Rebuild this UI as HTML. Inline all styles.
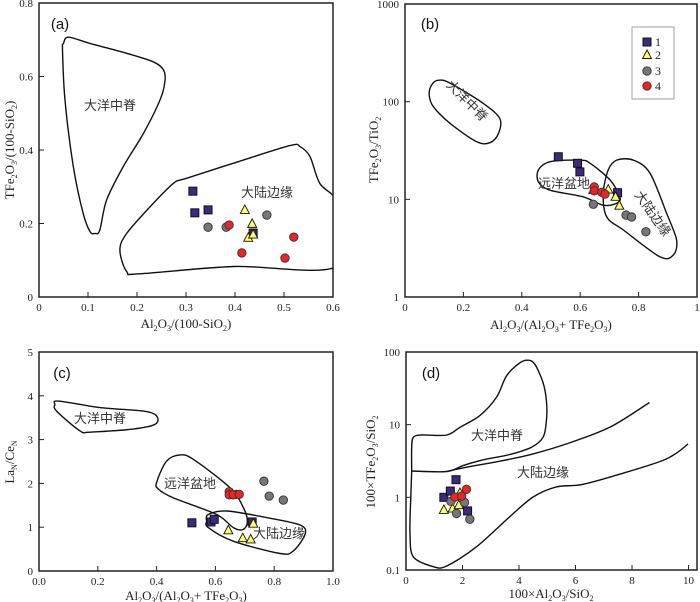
<!DOCTYPE html>
<html><head><meta charset="utf-8">
<style>
body{margin:0;background:#fff;}
svg{display:block;}
text{font-family:"Liberation Serif","Noto Serif CJK SC",serif;fill:#222;}
.cn{font-family:"Liberation Sans","Noto Sans CJK SC",sans-serif;font-size:13px;fill:#333;}
.pl{font-family:"Liberation Sans",sans-serif;font-size:15px;fill:#111;}
</style></head>
<body>
<svg id="chart" width="700" height="602" viewBox="0 0 700 602"></svg>
<script>
// ---- data: panel a ----
const aSq=[[0.314,0.288],[0.318,0.229],[0.345,0.237],[0.437,0.174]];
const aTri=[[0.42,0.237],[0.435,0.199],[0.427,0.161],[0.437,0.170]];
const aGray=[[0.345,0.190],[0.382,0.190],[0.465,0.223]];
const aRed=[[0.388,0.196],[0.414,0.120],[0.52,0.163],[0.502,0.106]];
const aRidge=[[0.048,0.672],[0.050,0.690],[0.060,0.707],[0.104,0.690],[0.179,0.663],[0.233,0.640],[0.254,0.618],[0.257,0.586],[0.247,0.536],[0.213,0.445],[0.172,0.355],[0.138,0.264],[0.124,0.182],[0.114,0.173],[0.104,0.178],[0.090,0.228],[0.070,0.355],[0.053,0.536]];
const aCont=[[0.165,0.128],[0.179,0.069],[0.206,0.063],[0.397,0.083],[0.61,0.084],[0.61,0.25],[0.573,0.309],[0.553,0.382],[0.533,0.409],[0.512,0.412],[0.397,0.364],[0.301,0.323],[0.274,0.309],[0.227,0.246],[0.179,0.173]];
const aXTicks=[0,0.1,0.2,0.3,0.4,0.5,0.6];
const aYTicks=[0,0.2,0.4,0.6,0.8];
// ---- data: panel b ----
const bSq=[[0.525,27.3],[0.591,23.4],[0.599,19.1],[0.728,11.7]];
const bTri=[[0.645,12.5],[0.696,12.6],[0.721,10.6],[0.734,8.6]];
const bGray=[[0.645,8.9],[0.757,6.9],[0.776,6.6],[0.825,4.66]];
const bRed=[[0.648,13.4],[0.648,12.2],[0.674,11.8],[0.685,11.3]];
const bRidge=[[0.091,148],[0.114,166],[0.154,155],[0.268,96],[0.325,67],[0.320,47],[0.291,38],[0.245,39],[0.154,60],[0.097,89],[0.083,117]];
const bBasin=[[0.457,20],[0.497,24.3],[0.599,25.2],[0.634,23.4],[0.702,15.8],[0.736,10.6],[0.725,9.1],[0.679,8.7],[0.611,10.6],[0.497,12.4],[0.457,15.1]];
const bCont=[[0.725,25.2],[0.782,25.2],[0.839,18.5],[0.896,7.2],[0.93,3.83],[0.919,2.69],[0.873,2.58],[0.748,4.85],[0.691,6.6],[0.679,11.5],[0.696,20]];
const bXTicks=[0,0.2,0.4,0.6,0.8,1];
const bYTicks=[1,10,100,1000];
// ---- data: panel c ----
const cSq=[[0.52,1.10],[0.585,1.12],[0.596,1.18],[0.725,1.12]];
const cTri=[[0.644,0.93],[0.693,0.75],[0.72,0.72],[0.729,1.08]];
const cGray=[[0.765,2.05],[0.783,1.71],[0.831,1.62],[0.672,1.75]];
const cRed=[[0.647,1.81],[0.647,1.74],[0.661,1.74],[0.681,1.75]];
const cRidge=[[0.054,3.80],[0.066,3.88],[0.207,3.73],[0.355,3.65],[0.40,3.54],[0.395,3.35],[0.32,3.24],[0.173,3.17],[0.139,3.20],[0.06,3.65]];
const cBasin=[[0.40,2.02],[0.434,2.51],[0.48,2.65],[0.525,2.55],[0.65,1.90],[0.695,1.45],[0.709,1.14],[0.695,0.95],[0.661,0.99],[0.604,1.29],[0.457,1.67],[0.406,1.87]];
const cCont=[[0.576,1.29],[0.638,1.37],[0.774,1.22],[0.888,1.05],[0.905,0.84],[0.865,0.46],[0.82,0.40],[0.661,0.68],[0.576,0.99],[0.57,1.14]];
const cXTicks=[0,0.2,0.4,0.6,0.8,1.0];
const cYTicks=[0,1,2,3,4,5];
// ---- data: panel d ----
const dSq=[[1.34,1.0],[1.57,1.22],[1.77,1.75],[2.18,0.65]];
const dTri=[[1.34,0.67],[1.65,0.70],[1.87,0.78],[1.91,1.15]];
const dGray=[[1.59,0.88],[1.79,0.60],[2.07,0.85],[2.26,0.50]];
const dRed=[[1.73,1.01],[1.97,1.04],[2.14,1.29]];
const dRidge=[[0.20,2.30],[0.20,4.89],[0.26,6.7],[0.55,7.2],[1.44,7.2],[1.91,9.2],[2.61,13.3],[3.20,23.7],[3.56,47],[4.03,71],[4.32,77],[4.56,68],[4.85,38],[4.97,21.3],[4.97,11.3],[4.85,6.7],[4.44,4.89],[3.67,3.88],[2.73,3.28],[2.03,2.75],[1.44,2.27],[0.20,2.30]];
const dMid=[[1.44,2.27],[2.14,2.6],[3.32,3.14],[4.50,3.96],[5.68,5.43],[7.21,9.2],[8.62,20.2]];
const dLow=[[0.20,2.30],[0.17,1.0],[0.14,0.32],[0.26,0.152],[0.97,0.111],[1.44,0.1135],[2.50,0.209],[3.67,0.54],[4.50,1.01],[5.32,1.39],[6.27,1.51],[7.80,2.22],[9.09,3.21],[9.62,4.18],[9.98,5.43]];
const dXTicks=[0,2,4,6,8,10];
const dYTicks=[0.1,1,10,100];

const NS='http://www.w3.org/2000/svg';
const svg=document.getElementById('chart');
function mk(tag,attrs,parent){const e=document.createElementNS(NS,tag);for(const k in attrs)e.setAttribute(k,attrs[k]);(parent||svg).appendChild(e);return e;}
const defs=mk('defs',{});

function panel(id,box,xd,yd,ylog){
  const g=mk('g',{});
  
  
  const cp=mk('clipPath',{id:'clip-'+id},defs);
  mk('rect',{x:box.l,y:box.t,width:box.r-box.l,height:box.b-box.t},cp);
  const cg=mk('g',{'clip-path':`url(#clip-${id})`},g);
  
  
  const sx=v=>box.l+(v-xd[0])/(xd[1]-xd[0])*(box.r-box.l);
  const sy=ylog?(v=>box.b-(Math.log10(v)-Math.log10(yd[0]))/(Math.log10(yd[1])-Math.log10(yd[0]))*(box.b-box.t))
               :(v=>box.b-(v-yd[0])/(yd[1]-yd[0])*(box.b-box.t));
  return {g,cg,sx,sy,box};
}
function frame(P,xt,yt,xfmt,yfmt){
  const {g,sx,sy,box}=P;
  const r=mk('rect',{x:box.l,y:box.t,width:box.r-box.l,height:box.b-box.t,fill:'none',stroke:'#222','stroke-width':1.5},g);
  
  
  xt.forEach(v=>{const x=sx(v);
    mk('line',{x1:x,x2:x,y1:box.b,y2:box.b-5,stroke:'#222','stroke-width':1},g);
    const t=mk('text',{x:x,y:box.b+14,'text-anchor':'middle','font-size':11},g);t.textContent=xfmt(v);
    
    });
  yt.forEach(v=>{const y=sy(v);
    mk('line',{x1:box.l,x2:box.l+5,y1:y,y2:y,stroke:'#222','stroke-width':1},g);
    const t=mk('text',{x:box.l-6,y:y+4,'text-anchor':'end','font-size':11},g);t.textContent=yfmt(v);
    
    });
}
function smoothPath(pts,closed){
  const n=pts.length;
  const get=i=>closed?pts[(i+n)%n]:pts[Math.max(0,Math.min(n-1,i))];
  let d='M'+pts[0][0].toFixed(1)+' '+pts[0][1].toFixed(1);
  const segs=closed?n:n-1;
  const k=0.16;
  for(let i=0;i<segs;i++){
    const p0=get(i-1),p1=get(i),p2=get(i+1),p3=get(i+2);
    const c1=[p1[0]+(p2[0]-p0[0])*k,p1[1]+(p2[1]-p0[1])*k];
    const c2=[p2[0]-(p3[0]-p1[0])*k,p2[1]-(p3[1]-p1[1])*k];
    d+=` C${c1[0].toFixed(1)} ${c1[1].toFixed(1)} ${c2[0].toFixed(1)} ${c2[1].toFixed(1)} ${p2[0].toFixed(1)} ${p2[1].toFixed(1)}`;
  }
  return d+(closed?' Z':'');
}
function region(P,pts,closed,name){
  const px=pts.map(p=>[P.sx(p[0]),P.sy(p[1])]);
  const e=mk('path',{d:smoothPath(px,closed),fill:'none',stroke:'#111','stroke-width':1.4,'stroke-linejoin':'round'},P.cg);
  
  
}
function marker(g,type,x,y){
  let e;
  if(type==='sq'){e=mk('rect',{x:x-4,y:y-4,width:8,height:8,fill:'#3b2a80',stroke:'#111','stroke-width':1},g);}
  else if(type==='tri'){e=mk('path',{d:`M${x} ${y-5} L${x+4.5} ${y+3.5} L${x-4.5} ${y+3.5} Z`,fill:'#ffff66',stroke:'#111','stroke-width':0.9},g);}
  else if(type==='gray'){e=mk('circle',{cx:x,cy:y,r:4.2,fill:'#777',stroke:'#333','stroke-width':0.9},g);}
  else {e=mk('circle',{cx:x,cy:y,r:4.2,fill:'#ee2424',stroke:'#333','stroke-width':0.9},g);}
  return e;
}
function points(P,arrs){
  [['sq',arrs[0]],['tri',arrs[1]],['gray',arrs[2]],['red',arrs[3]]].forEach(([t,a])=>{
    a.forEach(p=>{const e=marker(P.g,t,P.sx(p[0]),P.sy(p[1]));
      
      });
  });
}
function label(g,x,y,txt,cls,name,rot){
  const t=mk('text',{x:x,y:y,class:cls,'text-anchor':'middle'},g);
  if(rot)t.setAttribute('transform',`rotate(${rot} ${x} ${y})`);
  t.innerHTML=txt;
  
  
  return t;
}
const f1=v=>v===0?'0':v.toFixed(1);
const f0=v=>String(v);

// Panel a
const A=panel('a',{l:39,r:333,t:3,b:297},[0,0.6],[0,0.8],false);
frame(A,aXTicks,aYTicks,f1,f1);
region(A,aRidge,true,'mid-ocean-ridge-field');
region(A,aCont,true,'continental-margin-field');
points(A,[aSq,aTri,aGray,aRed]);
label(A.g,60,29,'(a)','pl','panel-label');
label(A.g,110,110,'大洋中脊','cn','mid-ocean-ridge-label');
label(A.g,267,197,'大陆边缘','cn','continental-margin-label');
label(A.g,186,328,'<tspan>Al</tspan><tspan dy="3" font-size="8">2</tspan><tspan dy="-3">O</tspan><tspan dy="3" font-size="8">3</tspan><tspan dy="-3">/(100-SiO</tspan><tspan dy="3" font-size="8">2</tspan><tspan dy="-3">)</tspan>','','x-axis-title').setAttribute('font-size','13');
label(A.g,14,150,'<tspan>TFe</tspan><tspan dy="3" font-size="8">2</tspan><tspan dy="-3">O</tspan><tspan dy="3" font-size="8">3</tspan><tspan dy="-3">/(100-SiO</tspan><tspan dy="3" font-size="8">2</tspan><tspan dy="-3">)</tspan>','','y-axis-title',-90).setAttribute('font-size','13');

// Panel b
const B=panel('b',{l:405,r:697,t:4,b:297},[0,1],[1,1000],true);
frame(B,bXTicks,bYTicks,v=>v===0||v===1?String(v):v.toFixed(1),f0);
region(B,bRidge,true,'mid-ocean-ridge-field');
region(B,bBasin,true,'ocean-basin-field');
region(B,bCont,true,'continental-margin-field');
points(B,[bSq,bTri,bGray,bRed]);
label(B.g,430,29,'(b)','pl','panel-label');
label(B.g,464,104,'大洋中脊','cn','mid-ocean-ridge-label',45);
label(B.g,564,188,'远洋盆地','cn','ocean-basin-label');
label(B.g,649,216,'大陆边缘','cn','continental-margin-label',55);
label(B.g,551,329,'<tspan>Al</tspan><tspan dy="3" font-size="8">2</tspan><tspan dy="-3">O</tspan><tspan dy="3" font-size="8">3</tspan><tspan dy="-3">/(Al</tspan><tspan dy="3" font-size="8">2</tspan><tspan dy="-3">O</tspan><tspan dy="3" font-size="8">3</tspan><tspan dy="-3">+ TFe</tspan><tspan dy="3" font-size="8">2</tspan><tspan dy="-3">O</tspan><tspan dy="3" font-size="8">3</tspan><tspan dy="-3">)</tspan>','','x-axis-title').setAttribute('font-size','13');
label(B.g,378,150,'<tspan>TFe</tspan><tspan dy="3" font-size="8">2</tspan><tspan dy="-3">O</tspan><tspan dy="3" font-size="8">3</tspan><tspan dy="-3">/TiO</tspan><tspan dy="3" font-size="8">2</tspan>','','y-axis-title',-90).setAttribute('font-size','13');
// legend
const lg=mk('g',{},B.g);


mk('rect',{x:632,y:27,width:42,height:72,fill:'#fff',stroke:'#888','stroke-width':0.8},lg);
[['sq','1',42],['tri','2',55],['gray','3',71],['red','4',86]].forEach(([t,n,y])=>{
  const e=marker(lg,t,647,y);
  
  
  const tx=mk('text',{x:655,y:y+4,'font-size':12},lg);tx.textContent=n;
  
  
});

// Panel c
const C=panel('c',{l:39,r:333,t:352,b:571},[0,1],[0,5],false);
frame(C,cXTicks,cYTicks,v=>v.toFixed(1),f0);
region(C,cRidge,true,'mid-ocean-ridge-field');
region(C,cBasin,true,'ocean-basin-field');
region(C,cCont,true,'continental-margin-field');
points(C,[cSq,cTri,cGray,cRed]);
label(C.g,62,378,'(c)','pl','panel-label');
label(C.g,100,423,'大洋中脊','cn','mid-ocean-ridge-label');
label(C.g,190,488,'远洋盆地','cn','ocean-basin-label');
label(C.g,279,538,'大陆边缘','cn','continental-margin-label');
label(C.g,186,600,'<tspan>Al</tspan><tspan dy="3" font-size="8">2</tspan><tspan dy="-3">O</tspan><tspan dy="3" font-size="8">3</tspan><tspan dy="-3">/(Al</tspan><tspan dy="3" font-size="8">2</tspan><tspan dy="-3">O</tspan><tspan dy="3" font-size="8">3</tspan><tspan dy="-3">+ TFe</tspan><tspan dy="3" font-size="8">2</tspan><tspan dy="-3">O</tspan><tspan dy="3" font-size="8">3</tspan><tspan dy="-3">)</tspan>','','x-axis-title').setAttribute('font-size','13');
label(C.g,14,462,'<tspan>La</tspan><tspan dy="3" font-size="8">N</tspan><tspan dy="-3">/Ce</tspan><tspan dy="3" font-size="8">N</tspan>','','y-axis-title',-90).setAttribute('font-size','13');

// Panel d
const D=panel('d',{l:406,r:697,t:352,b:570},[0,10.3],[0.1,100],true);
frame(D,dXTicks,dYTicks,f0,f0);
region(D,dRidge,false,'mid-ocean-ridge-field');
region(D,dMid,false,'field-boundary-upper');
region(D,dLow,false,'continental-margin-lower-boundary');
points(D,[dSq,dTri,dGray,dRed]);
label(D.g,431,378,'(d)','pl','panel-label');
label(D.g,497,440,'大洋中脊','cn','mid-ocean-ridge-label');
label(D.g,543,477,'大陆边缘','cn','continental-margin-label');
label(D.g,551,598,'<tspan>100×Al</tspan><tspan dy="3" font-size="8">2</tspan><tspan dy="-3">O</tspan><tspan dy="3" font-size="8">3</tspan><tspan dy="-3">/SiO</tspan><tspan dy="3" font-size="8">2</tspan>','','x-axis-title').setAttribute('font-size','13');
label(D.g,375,462,'<tspan>100×TFe</tspan><tspan dy="3" font-size="8">2</tspan><tspan dy="-3">O</tspan><tspan dy="3" font-size="8">3</tspan><tspan dy="-3">/SiO</tspan><tspan dy="3" font-size="8">2</tspan>','','y-axis-title',-90).setAttribute('font-size','13');
</script>
</body></html>
